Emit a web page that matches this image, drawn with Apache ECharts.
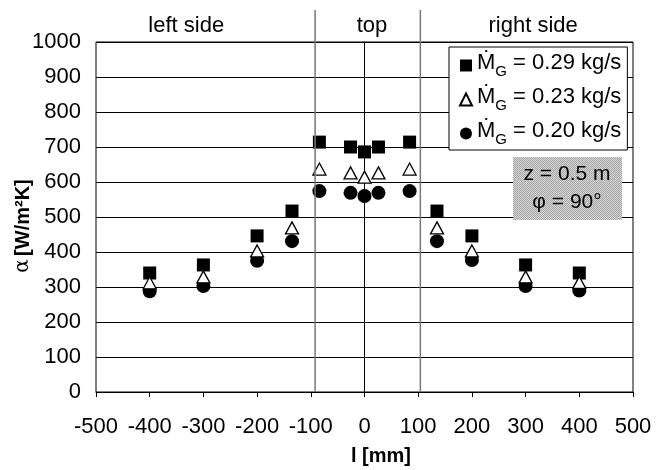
<!DOCTYPE html>
<html>
<head>
<meta charset="utf-8">
<script src="https://cdn.jsdelivr.net/npm/echarts@6/dist/echarts.min.js"></script>
<style>
  html, body { margin: 0; padding: 0; background: #fff; }
  #chart { width: 667px; height: 470px; }
</style>
</head>
<body>
<div id="chart"></div>
<script>
// positions along the wall, mm
const positions = [-400, -300, -200, -135, -84, -26, 0, 26, 84, 135, 200, 300, 400];
// heat transfer coefficient, W/m2K
const mg029 = [340, 363, 446, 517, 714, 700, 686, 700, 714, 517, 446, 363, 340];
const mg023 = [312, 329, 403, 469, 637, 626, 614, 626, 637, 469, 403, 329, 313];
const mg020 = [288, 303, 375, 431, 574, 569, 560, 569, 574, 431, 377, 303, 290];
const rates = ['0.29', '0.23', '0.20'];

const sectionBounds = [-92, 104];
const sectionNames = ['left side', 'top', 'right side'];
const sectionLabelX = [-332, 14, 314];

const font = 'Liberation Sans, Arial, sans-serif';

let myChart = echarts.init(document.getElementById('chart'));

function pts(vals) {
    return positions.map((p, i) => [p, vals[i]]);
}

// dotted grey fill for the note box
let pat = document.createElement('canvas');
pat.width = 2; pat.height = 2;
let pc = pat.getContext('2d');
pc.fillStyle = '#d8d8d8'; pc.fillRect(0, 0, 2, 2);
pc.fillStyle = '#a4a4a4'; pc.fillRect(0, 0, 1, 1); pc.fillRect(1, 1, 1, 1);

const option = {
    animation: false,
    textStyle: { fontFamily: font },
    grid: { left: 96, right: 34, top: 42, bottom: 78, show: true, borderColor: '#000', borderWidth: 1,
            outerBoundsMode: 'none', containLabel: false },
    xAxis: {
        type: 'value', min: -500, max: 500, interval: 100,
        axisLine: { lineStyle: { color: '#000' } },
        axisTick: { length: 5, lineStyle: { color: '#000' } },
        axisLabel: { color: '#000', fontSize: 22, margin: 24, fontFamily: font, formatter: v => String(v) },
        splitLine: { show: false }
    },
    yAxis: {
        type: 'value', min: 0, max: 1000, interval: 100,
        axisLine: { show: true, lineStyle: { color: '#000' } },
        axisTick: { show: true, length: 5, lineStyle: { color: '#000' } },
        axisLabel: { color: '#000', fontSize: 22, margin: 15, fontFamily: font, formatter: v => String(v) },
        splitLine: { lineStyle: { color: '#000', width: 1 } }
    },
    legend: {
        orient: 'vertical', left: 449, top: 47,
        backgroundColor: '#fff', borderColor: '#000', borderWidth: 1,
        padding: [5, 6, 3, 10], itemGap: 7, itemWidth: 12, itemHeight: 12,
        formatter: function (name) {
            let i = ['sq', 'tr', 'ci'].indexOf(name);
            return '{m|Ṁ}{s|G}{t| = ' + rates[i] + ' kg/s}';
        },
        textStyle: {
            rich: {
                m: { fontSize: 22, color: '#000', fontFamily: font, lineHeight: 27, verticalAlign: 'top' },
                s: { fontSize: 15, color: '#000', fontFamily: font, lineHeight: 27, verticalAlign: 'bottom' },
                t: { fontSize: 22, color: '#000', fontFamily: font, lineHeight: 27, verticalAlign: 'top' }
            }
        }
    },
    series: [
        { name: 'sq', type: 'scatter', symbol: 'rect', symbolSize: 13, data: pts(mg029),
          itemStyle: { color: '#000', opacity: 1 }, z: 3 },
        { name: 'tr', type: 'scatter', symbol: 'triangle', symbolSize: [13, 12], data: pts(mg023),
          itemStyle: { color: '#fff', borderColor: '#000', borderWidth: 1.3, opacity: 1 }, z: 4 },
        { name: 'ci', type: 'scatter', symbol: 'circle', symbolSize: 14, data: pts(mg020),
          itemStyle: { color: '#000', opacity: 1 }, z: 3 }
    ]
};

myChart.setOption(option);

// section separators, header labels, axis titles and note box
const y0 = myChart.convertToPixel({ gridIndex: 0 }, [0, 0])[1];
let g = [];
sectionBounds.forEach(b => {
    let x = myChart.convertToPixel({ gridIndex: 0 }, [b, 0])[0];
    g.push({ type: 'line', shape: { x1: x, y1: 10, x2: x, y2: y0 }, style: { stroke: '#777', lineWidth: 1.5 }, z: 5 });
});
sectionNames.forEach((s, i) => {
    let x = myChart.convertToPixel({ gridIndex: 0 }, [sectionLabelX[i], 0])[0];
    g.push({ type: 'text', x: x, y: 26, style: { text: s, fontSize: 22, fontFamily: font, fill: '#000', align: 'center', verticalAlign: 'middle' }, z: 5 });
});
g.push({ type: 'text', x: 351, y: 456, style: { text: 'l [mm]', fontSize: 20, fontWeight: 'bold', fontFamily: font, fill: '#000', verticalAlign: 'middle' }, z: 5 });
g.push({ type: 'text', x: 23, y: 226, rotation: Math.PI / 2,
    style: {
        text: '{a|α} {b|[W/m²K]}', align: 'center', verticalAlign: 'middle',
        rich: {
            a: { fontSize: 20, fill: '#000', fontFamily: 'DejaVu Serif, serif' },
            b: { fontSize: 20, fill: '#000', fontWeight: 'bold', fontFamily: font }
        }
    }, z: 5 });
g.push({ type: 'rect', shape: { x: 513, y: 157, width: 109, height: 63 }, style: { fill: { image: pat, repeat: 'repeat' } }, z: 10 });
g.push({ type: 'text', x: 567, y: 174, style: { text: 'z = 0.5 m', fontSize: 21, fontFamily: font, fill: '#000', align: 'center', verticalAlign: 'middle' }, z: 11 });
g.push({ type: 'text', x: 567, y: 202, style: { text: 'φ = 90°', fontSize: 21, fontFamily: font, fill: '#000', align: 'center', verticalAlign: 'middle' }, z: 11 });

myChart.setOption({ graphic: g });

window.onresize = function () {
    myChart.resize();
};
</script>
</body>
</html>
